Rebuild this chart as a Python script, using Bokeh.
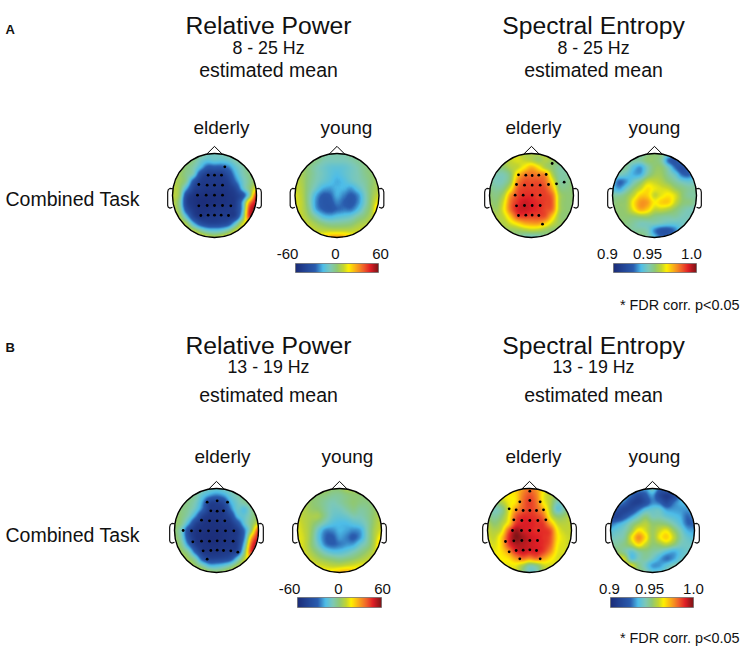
import numpy as np
from bokeh.plotting import figure
from bokeh.models import Range1d, LinearColorMapper
from bokeh.core.properties import value
from bokeh.embed import file_html
from bokeh.resources import INLINE

# Value grids (13 x 13, top row first)
rp_elderly_a = [
 [5,5,5,2,-4,-10,-12,-10,-6,-3,0,4,5],
 [6,5,2,-3,-12,-17,-15,-16,-14,-8,-3,2,5],
 [6,4,-2,-8,-20,-34,-34,-34,-28,-16,-8,-1,5],
 [6,3,-4,-12,-40,-50,-50,-50,-40,-22,-10,-3,4],
 [6,3,-6,-35,-50,-52,-52,-52,-48,-30,-14,-4,4],
 [8,2,-22,-46,-52,-54,-54,-54,-52,-44,-18,-2,14],
 [8,0,-42,-54,-56,-57,-57,-56,-54,-50,-38,-6,45],
 [8,-5,-46,-55,-58,-58,-57,-56,-54,-50,-22,30,52],
 [8,-2,-38,-52,-56,-56,-54,-53,-52,-48,-20,45,55],
 [10,5,-18,-45,-54,-52,-52,-50,-50,-46,-10,45,40],
 [12,10,3,-20,-38,-45,-46,-44,-38,-15,10,20,15],
 [14,14,10,6,-5,-14,-16,-14,-5,8,14,14,14],
 [16,16,16,16,14,10,6,10,14,16,16,16,16]]
rp_young_a = [
 [0,0,0,0,-5,-8,-8,-8,-5,-3,0,0,0],
 [5,3,0,-3,-8,-10,-10,-10,-8,-5,-2,0,3],
 [5,3,-2,-8,-12,-15,-16,-15,-12,-8,-3,0,3],
 [6,4,-2,-8,-12,-16,-19,-16,-12,-9,-4,0,4],
 [8,5,-3,-9,-14,-18,-22,-19,-14,-10,-6,0,5],
 [10,6,-4,-13,-22,-24,-21,-21,-24,-16,-8,1,6],
 [12,7,-6,-22,-32,-31,-22,-27,-32,-26,-11,2,10],
 [12,8,-6,-25,-34,-34,-27,-31,-34,-26,-11,4,18],
 [12,8,-3,-22,-31,-34,-30,-28,-28,-19,-6,6,30],
 [12,9,2,-8,-18,-21,-18,-16,-13,-6,0,8,25],
 [14,12,8,3,-2,-5,-5,-4,-2,3,6,10,16],
 [16,14,12,9,8,8,8,8,8,10,12,14,16],
 [16,16,16,16,20,28,30,28,20,16,16,16,16]]
se_elderly_a = [
 [955,955,958,960,960,955,955,955,958,958,955,955,955],
 [952,952,955,958,960,958,956,952,955,952,950,950,950],
 [948,948,950,955,958,965,972,965,955,950,945,945,948],
 [945,943,943,950,968,978,980,978,975,955,945,945,948],
 [945,942,943,952,976,984,984,984,980,964,946,946,950],
 [948,945,948,962,982,986,986,986,984,972,950,948,950],
 [950,948,955,975,985,988,988,986,986,980,955,950,950],
 [952,950,960,980,988,992,990,988,986,982,955,950,950],
 [955,952,962,980,990,992,990,988,985,980,955,950,950],
 [958,955,958,970,984,986,985,985,983,968,952,950,952],
 [960,958,955,960,966,972,974,974,968,958,952,952,955],
 [962,960,956,952,952,954,956,955,952,950,952,955,958],
 [962,962,960,955,948,942,940,942,948,955,958,960,960]]
se_young_a = [
 [940,940,940,940,942,948,950,948,940,935,935,938,940],
 [945,945,945,945,945,950,950,945,925,920,935,938,940],
 [945,945,945,935,930,942,950,950,940,925,918,930,938],
 [942,942,938,932,932,945,952,952,945,938,925,925,940],
 [935,925,930,940,948,958,958,955,950,945,940,938,942],
 [935,930,940,950,958,966,962,960,958,952,948,945,945],
 [945,945,950,958,968,968,958,962,965,960,950,945,945],
 [948,950,952,965,975,974,964,968,968,958,950,948,945],
 [950,950,952,962,972,968,958,958,955,950,945,942,942],
 [950,950,950,950,952,952,948,946,945,945,942,942,945],
 [950,950,948,945,942,942,942,940,938,938,940,945,948],
 [952,950,948,945,945,942,928,920,920,928,942,948,948],
 [952,952,952,950,950,945,935,925,925,938,948,950,950]]
rp_elderly_b = [
 [0,0,0,-2,-8,-12,-14,-12,-8,-4,0,0,0],
 [3,2,-2,-6,-16,-24,-28,-24,-14,-8,-3,0,3],
 [3,0,-4,-10,-24,-46,-48,-42,-22,-12,-6,-2,3],
 [3,-2,-6,-14,-30,-50,-52,-50,-30,-14,-18,-5,2],
 [3,-2,-10,-26,-48,-54,-54,-52,-44,-20,-14,-5,4],
 [2,-4,-22,-46,-54,-56,-56,-54,-52,-38,-16,-2,12],
 [0,-12,-42,-54,-56,-57,-57,-56,-54,-50,-28,2,42],
 [2,-10,-40,-54,-57,-58,-58,-56,-54,-50,-26,25,50],
 [4,-4,-28,-50,-55,-57,-57,-55,-54,-50,-16,40,55],
 [6,2,-8,-34,-52,-54,-54,-52,-50,-44,-4,45,45],
 [10,8,2,-10,-36,-46,-46,-44,-38,-16,8,25,20],
 [13,13,9,2,-8,-20,-20,-16,-8,4,12,14,14],
 [16,16,16,14,10,4,0,4,10,15,16,16,16]]
rp_young_b = [
 [5,5,5,5,5,0,0,5,5,5,5,5,5],
 [7,5,2,0,-2,-5,-5,-2,0,0,0,2,5],
 [7,5,1,-2,-6,-9,-7,-3,0,-2,-2,1,5],
 [8,6,2,0,-6,-11,-11,-7,-3,-6,-4,1,6],
 [10,7,5,4,-5,-13,-15,-13,-9,-9,-5,2,8],
 [12,8,3,-4,-12,-18,-20,-20,-17,-14,-7,3,10],
 [13,9,1,-14,-26,-26,-21,-23,-26,-23,-8,5,12],
 [14,10,0,-17,-30,-32,-24,-27,-32,-24,-8,6,20],
 [14,10,0,-13,-27,-31,-28,-25,-23,-13,-5,8,28],
 [14,11,4,-4,-13,-18,-18,-15,-10,-4,2,10,25],
 [15,13,9,4,0,-3,-5,-3,0,4,8,12,18],
 [18,16,14,12,10,8,8,10,12,14,14,16,18],
 [18,18,18,18,18,20,25,28,25,18,18,18,18]]
se_elderly_b = [
 [962,962,962,964,968,975,980,975,965,958,958,958,958],
 [962,962,962,964,966,978,984,978,962,956,952,952,955],
 [955,950,955,962,966,980,986,980,964,955,942,945,952],
 [948,942,946,960,974,982,986,982,972,955,938,945,955],
 [950,945,950,962,982,988,988,986,980,960,950,952,958],
 [955,950,955,966,986,990,990,988,986,972,958,956,958],
 [958,955,960,982,996,992,990,988,988,984,964,958,958],
 [960,958,968,988,999,996,992,990,988,984,966,960,958],
 [962,960,968,986,994,994,992,990,988,982,964,960,958],
 [964,962,966,975,988,992,990,990,986,976,962,960,960],
 [966,964,964,966,974,980,976,980,974,966,960,960,962],
 [966,966,964,962,962,955,945,948,958,960,962,962,964],
 [966,966,966,964,960,950,940,942,955,962,964,964,964]]
se_young_b = [
 [938,938,938,938,935,930,940,925,925,930,938,938,938],
 [940,940,938,925,915,922,930,915,908,915,930,938,938],
 [938,935,925,912,910,918,928,925,915,925,932,935,938],
 [928,918,912,915,925,935,938,938,930,930,930,930,935],
 [915,912,920,930,940,948,942,942,938,935,932,925,930],
 [925,930,936,945,952,956,950,950,948,942,935,925,925],
 [935,938,942,952,965,960,952,958,962,952,942,932,930],
 [940,942,945,962,976,966,952,962,968,958,945,938,935],
 [945,945,948,955,966,958,950,952,956,950,942,940,940],
 [950,950,945,938,945,948,945,942,936,932,936,940,942],
 [960,960,958,936,942,945,940,932,926,930,938,942,945],
 [962,962,960,960,948,940,930,930,936,942,945,948,948],
 [962,962,960,955,950,945,938,938,942,948,950,950,950]]

# Significant electrodes, offsets from head centre in 1/126 of the radius (x right, y down)
dots_rp_a = [(31,-86),(-19,-61),(0,-61),(21,-61),(-47,-33),(-22,-31),(0,-31),(24,-31),(-51,-1),(-25,-1),(0,-1),(24,-1),
             (-47,31),(-22,30),(0,30),(24,30),(49,31),(-41,60),(-19,59),(0,59),(20,59),(42,60)]
dots_se_a = [(62,-96),(-39,-62),(-17,-61),(2,-60),(22,-61),(44,-63),(-45,-33),(-21,-31),(2,-31),(26,-31),(51,-33),(75,-35),(98,-40),
             (-49,-1),(-25,-1),(2,-1),(26,-1),(-45,31),(-21,30),(2,30),(26,30),(-39,60),(-17,59),(2,59),(22,60),(33,86)]
dots_rp_b = [(-28,-85),(2,-89),(33,-85),(-17,-59),(2,-58),(21,-59),(-45,-31),(-21,-29),(2,-29),(25,-29),(-100,0),(-75,1),(-49,1),(-24,1),(2,1),(27,1),(52,1),
             (-71,34),(-45,32),(-21,32),(2,31),(25,31),(50,32),(-40,61),(-17,60),(2,59),(21,60),(43,61),(64,65),(-28,86)]
dots_se_b = [(1,-118),(-29,-86),(1,-90),(32,-86),(-61,-65),(-40,-62),(-19,-60),(1,-60),(21,-60),(42,-62),(-47,-32),(-23,-30),(1,-30),(25,-30),(49,-32),
             (-51,0),(-24,0),(1,0),(27,0),(-72,33),(-47,31),(-23,30),(1,30),(24,30),(-61,64),(-40,60),(-19,59),(1,58),(21,60),(-29,85),(32,85)]

rp_ticks = ["-60", "0", "60"]
se_ticks = ["0.9", "0.95", "1.0"]
stops = [(0.0,"#1b2c78"),(0.12,"#234596"),(0.24,"#2a5cae"),(0.33,"#4dbde8"),(0.42,"#7cc8b8"),(0.5,"#8fc873"),
         (0.58,"#c4d52f"),(0.64,"#fff200"),(0.74,"#f8a11c"),(0.82,"#f0632a"),(0.9,"#e01e26"),(1.0,"#7d1416")]

def rgb(h):
    return [int(h[i:i+2], 16) for i in (1, 3, 5)]
pos = [s[0] for s in stops]
chan = np.array([rgb(s[1]) for s in stops], float)
palette = ["#%02x%02x%02x" % tuple(int(round(np.interp(t, pos, chan[:, k]))) for k in range(3))
           for t in np.linspace(0, 1, 256)]

def cr(a, n):
    # Catmull-Rom resampling along axis 0
    m = a.shape[0]
    u = np.linspace(0, m - 1, n)
    i = np.clip(u.astype(int), 0, m - 2)
    t = (u - i)[:, None]
    p0, p1, p2, p3 = a[np.clip(i-1, 0, m-1)], a[i], a[i+1], a[np.clip(i+2, 0, m-1)]
    return 0.5*(2*p1 + (p2-p0)*t + (2*p0-5*p1+4*p2-p3)*t**2 + (3*p1-p0-3*p2+p3)*t**3)

def smooth(g, n=169):
    a = cr(np.array(g, float), n)
    a = cr(a.T, n).T
    yy, xx = np.mgrid[1:-1:n*1j, -1:1:n*1j]
    a[xx**2 + yy**2 > 1.0] = np.nan
    return a[::-1]

W, H = 742, 649
def Y(y):
    return 649 - y

p = figure(width=W, height=H, output_backend="svg", toolbar_location=None,
           x_range=Range1d(0, 742), y_range=Range1d(0, 649), min_border=0,
           x_axis_type=None, y_axis_type=None, outline_line_color=None)
p.grid.visible = False

rp_map = LinearColorMapper(palette=palette, low=-60, high=60, nan_color=(0, 0, 0, 0))
se_map = LinearColorMapper(palette=palette, low=900, high=1000, nan_color=(0, 0, 0, 0))

R = 42
heads = [
    (214, 195, rp_elderly_a, rp_map, dots_rp_a),
    (336.5, 195, rp_young_a, rp_map, None),
    (531, 195, se_elderly_a, se_map, dots_se_a),
    (654, 195, se_young_a, se_map, None),
    (216, 530, rp_elderly_b, rp_map, dots_rp_b),
    (339, 530, rp_young_b, rp_map, None),
    (529, 530, se_elderly_b, se_map, dots_se_b),
    (652, 530, se_young_b, se_map, None),
]
ear_x = [0.99, 1.06, 1.10, 1.115, 1.115, 1.10, 1.06, 1.00]
ear_y = [0.16, 0.17, 0.14, 0.08, -0.24, -0.28, -0.30, -0.28]
for cx, cy, g, mp, d in heads:
    p.image(image=[smooth(g)], x=cx-R, y=Y(cy+R), dw=2*R, dh=2*R, color_mapper=mp)
    for s in (-1, 1):
        p.line([cx + s*R*v for v in ear_x], [Y(cy) + R*v for v in ear_y], line_color="#111111", line_width=1.2)
    p.line([cx-R*0.19, cx, cx+R*0.19], [Y(cy)+R*0.98, Y(cy)+R*1.17, Y(cy)+R*0.98], line_color="black", line_width=1)
    p.circle(x=[cx], y=[Y(cy)], radius=R, fill_color=None, line_color="black", line_width=1.4)
    if d:
        p.circle(x=[cx + v[0]/3 for v in d], y=[Y(cy) - v[1]/3 for v in d], radius=1.4,
                 fill_color="black", line_color=None)

bars = [(295, 378, 263, 272, rp_map, rp_ticks, [287, 335, 380], 253),
        (613, 696, 263, 272, se_map, se_ticks, [607, 647, 691], 253),
        (297, 381, 597, 607, rp_map, rp_ticks, [289, 338, 382], 588),
        (610, 693, 597, 607, se_map, se_ticks, [609, 649, 693], 588)]
for x0, x1, y0, y1, mp, ticks, tx, ty in bars:
    grad = np.linspace(mp.low, mp.high, 256)[None, :]
    p.image(image=[grad], x=x0, y=Y(y1), dw=x1-x0, dh=y1-y0, color_mapper=mp)
    p.quad(left=x0, right=x1, bottom=Y(y1), top=Y(y0), fill_color=None, line_color="#666666", line_width=0.7)
    p.text(x=tx, y=[Y(ty)]*3, text=ticks, text_align="center", text_baseline="middle",
           text_font=value("Liberation Sans"), text_font_size="15px", text_color="#111111")

def label(x, y, s, size, align="center", style="normal"):
    p.text(x=[x], y=[Y(y)], text=[s], text_align=align, text_baseline="middle",
           text_font=value("Liberation Sans"), text_font_size=f"{size}px", text_font_style=style, text_color="#111111")

for (x, t) in [(268, "Relative Power"), (593, "Spectral Entropy")]:
    label(x, 25, t, 24.7)
    label(x, 47, "8 - 25 Hz", 17.8)
    label(x, 69, "estimated mean", 19.5)
    label(x, 345, t, 24.7)
    label(x, 366, "13 - 19 Hz", 17.8)
    label(x, 394, "estimated mean", 19.5)
for x, t in [(221, "elderly"), (346, "young"), (533, "elderly"), (654, "young")]:
    label(x, 127, t, 19)
for x, t in [(222, "elderly"), (347, "young"), (533, "elderly"), (654, "young")]:
    label(x, 456, t, 19)
label(5, 198, "Combined Task", 19.5, "left")
label(5, 534, "Combined Task", 19.5, "left")
label(5, 29, "A", 13, "left", "bold")
label(5, 347, "B", 13, "left", "bold")
label(739, 304, "* FDR corr. p<0.05", 14.4, "right")
label(739, 637, "* FDR corr. p<0.05", 14.4, "right")

open("out.html", "w").write(file_html(p, INLINE))
